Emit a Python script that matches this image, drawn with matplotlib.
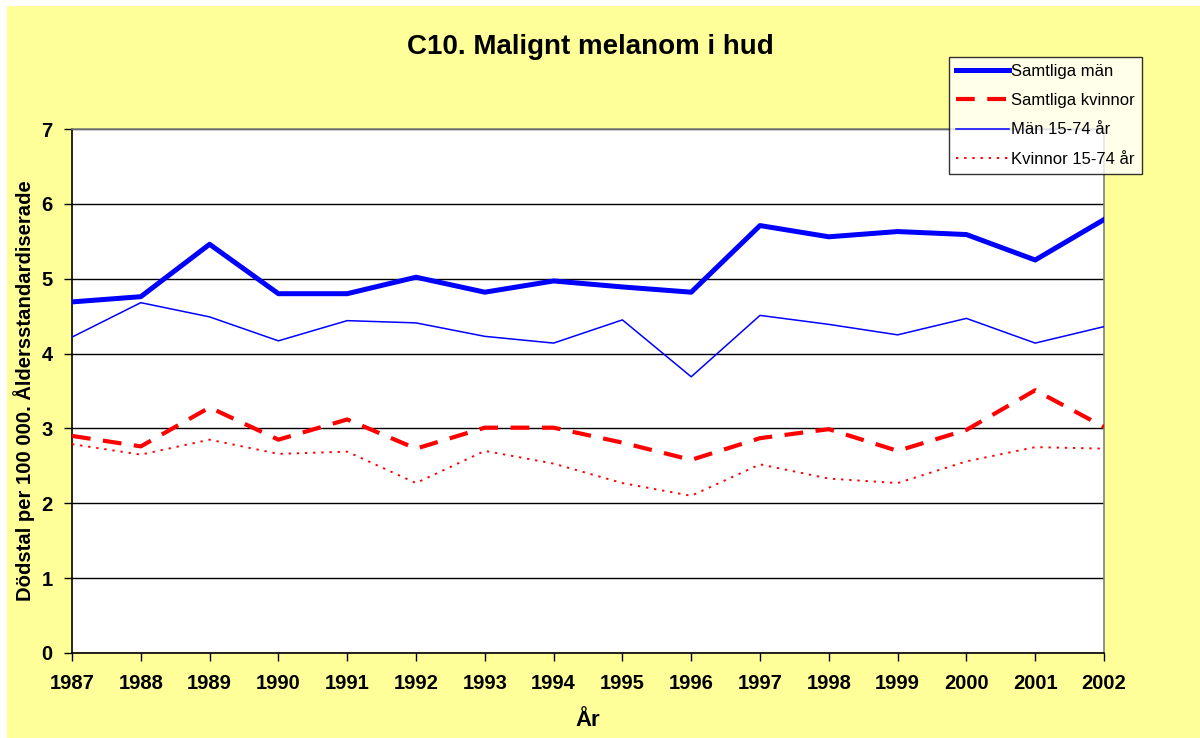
import matplotlib.pyplot as plt
from matplotlib.patches import Rectangle

# data
years = [1987, 1988, 1989, 1990, 1991, 1992, 1993, 1994, 1995, 1996, 1997, 1998, 1999, 2000, 2001, 2002]
samtliga_man = [4.69, 4.76, 5.46, 4.80, 4.80, 5.02, 4.82, 4.97, 4.89, 4.82, 5.71, 5.56, 5.63, 5.59, 5.25, 5.79]
samtliga_kvinnor = [2.90, 2.76, 3.28, 2.85, 3.12, 2.73, 3.01, 3.01, 2.81, 2.58, 2.87, 2.99, 2.70, 2.98, 3.51, 3.02]
man_15_74 = [4.22, 4.68, 4.49, 4.17, 4.44, 4.41, 4.23, 4.14, 4.45, 3.69, 4.51, 4.39, 4.25, 4.47, 4.14, 4.36]
kvinnor_15_74 = [2.79, 2.65, 2.85, 2.66, 2.69, 2.27, 2.70, 2.53, 2.27, 2.10, 2.52, 2.33, 2.27, 2.56, 2.75, 2.73]

plt.rcParams['font.family'] = ['Liberation Sans', 'DejaVu Sans']

fig = plt.figure(figsize=(12, 7.38), dpi=100, facecolor='white')
# yellow chart area with a thin white margin top/left
fig.patches.append(Rectangle((7/1200, 0), 1 - 7/1200, 1 - 6/738, transform=fig.transFigure,
                             facecolor='#FFFF99', edgecolor='none', zorder=-5))

ax = fig.add_axes([72/1200, 1 - 653/738, (1104 - 72)/1200, (653 - 129)/738])
ax.set_facecolor('white')

ax.plot(years, samtliga_man, color='#0000FF', linewidth=3.6, label='Samtliga män', zorder=4)
ax.plot(years, samtliga_kvinnor, color='#FF0000', linewidth=3.0, dashes=(4.5, 3), label='Samtliga kvinnor', zorder=4)
ax.plot(years, man_15_74, color='#0000FF', linewidth=1.1, label='Män 15-74 år', zorder=3)
ax.plot(years, kvinnor_15_74, color='#FF0000', linewidth=1.4, dashes=(1.2, 3), label='Kvinnor 15-74 år', zorder=3)

ax.set_xlim(1987, 2002)
ax.set_ylim(0, 7)
ax.set_xticks(years)
ax.set_xticklabels([str(y) for y in years], fontsize=14.5, fontweight='bold')
ax.set_yticks(range(0, 8))
ax.set_yticklabels([str(v) for v in range(0, 8)], fontsize=14.5, fontweight='bold')
ax.tick_params(direction='out', length=6, width=1, color='black', pad=9)
ax.tick_params(axis='y', pad=8)

ax.yaxis.grid(True, color='black', linewidth=1)
ax.set_axisbelow(True)
for s in ['left', 'bottom']:
    ax.spines[s].set_color('black')
    ax.spines[s].set_linewidth(1.2)
for s in ['top', 'right']:
    ax.spines[s].set_color('#808080')
    ax.spines[s].set_linewidth(1.2)

ax.set_ylabel('Dödstal per 100 000. Åldersstandardiserade', fontsize=14.6, fontweight='bold')
ax.yaxis.set_label_coords(-37/1032, 0.5)
ax.set_xlabel('År', fontsize=16, fontweight='bold')
ax.xaxis.set_label_coords(0.5, -57/524)

fig.text(590/1200, 1 - 47/738, 'C10. Malignt melanom i hud', ha='center', va='center',
         fontsize=20, fontweight='bold')

leg = ax.legend(loc='upper left', bbox_to_anchor=(949/1200, 1 - 57/738), bbox_transform=fig.transFigure,
                borderaxespad=0, fontsize=12, frameon=True, fancybox=False, handlelength=3.2,
                handletextpad=0.1, labelspacing=0.85, borderpad=0.42)
leg.get_frame().set_edgecolor('black')
leg.get_frame().set_linewidth(1)
leg.set_zorder(10)

fig.savefig('out.png', dpi=100, facecolor=fig.get_facecolor())
